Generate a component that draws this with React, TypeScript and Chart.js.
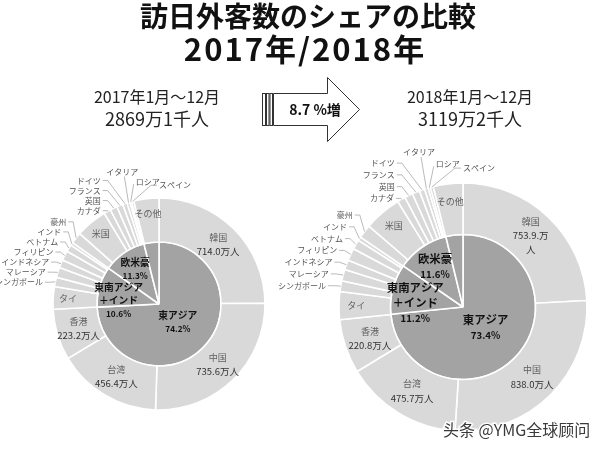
import React, { useEffect, useRef } from "react";
import { Chart, registerables } from "chart.js";

Chart.register(...registerables);

// ---------- data ----------
const countries = [
  "韓国", "中国", "台湾", "香港", "タイ", "シンガポール", "マレーシア", "インドネシア",
  "フィリピン", "ベトナム", "インド", "豪州", "米国", "カナダ", "英国", "フランス",
  "ドイツ", "イタリア", "ロシア", "スペイン", "その他",
];
const visitors2017 = [
  714.0, 735.6, 456.4, 223.2, 98.7, 40.4, 44.0, 35.3, 42.4, 30.9, 13.4, 49.5, 137.5,
  30.6, 31.0, 26.9, 19.6, 12.6, 7.7, 10.0, 109.4,
];
const visitors2018 = [
  753.9, 838.0, 475.7, 220.8, 113.2, 43.7, 46.8, 39.7, 50.4, 38.9, 15.4, 55.2, 152.6,
  33.1, 33.4, 30.5, 21.5, 14.9, 9.5, 11.9, 120.1,
];
const regions = ["東アジア", "東南アジア\n＋インド", "欧米豪", "その他"];
const regionShare2017 = [74.2, 10.6, 11.3, 3.9];
const regionShare2018 = [73.4, 11.2, 11.6, 3.8];
const valueCountries = ["韓国", "中国", "台湾", "香港"];
const valueText2017: Record<string, string[]> = {};
const valueText2018: Record<string, string[]> = { "韓国": ["753.9.万", "人"] };
const titleLines = ["訪日外客数のシェアの比較", "2017年/2018年"];
const period2017 = ["2017年1月～12月", "2869万1千人"];
const period2018 = ["2018年1月～12月", "3119万2千人"];
const growthLabel = "8.7 %増";
const watermark = "头条 @YMG全球顾问";

// ---------- styles ----------
const OUTER_FILL = "#d9d9d9";
const INNER_FILL = "#a3a3a3";
const FONT = "'Noto Sans CJK JP', 'Noto Sans CJK SC', sans-serif";

type Spec = {
  values: number[];
  shares: number[];
  valueText: Record<string, string[]>;
};

function ringLabels(spec: Spec) {
  return {
    id: "ringLabels",
    afterDatasetsDraw(chart: any) {
      const ctx: CanvasRenderingContext2D = chart.ctx;
      const outerArcs = chart.getDatasetMeta(0).data as any[];
      const innerArcs = chart.getDatasetMeta(1).data as any[];
      const f = outerArcs[0];
      const cx = f.x, cy = f.y, R = f.outerRadius, Rin = f.innerRadius;
      const vals = spec.values;
      const total = vals.reduce((s, v) => s + v, 0);
      const mid = (arc: any) => (arc.startAngle + arc.endAngle) / 2;
      const pt = (a: number, r: number) => [cx + r * Math.cos(a), cy + r * Math.sin(a)];

      ctx.save();
      ctx.textBaseline = "middle";

      // ---- outer ring labels ----
      const small: { i: number; a: number; nx: number; ny: number; y: number }[] = [];
      outerArcs.forEach((arc, i) => {
        const share = vals[i] / total;
        const a = mid(arc);
        if (share < 0.025) {
          small.push({ i, a, nx: 0, ny: 0, y: 0 });
          return;
        }
        const name = countries[i];
        const hasValue = valueCountries.includes(name);
        const lines = hasValue
          ? [name, ...(spec.valueText[name] ?? [vals[i].toFixed(1) + "万人"])]
          : [name];
        const r = hasValue ? (R + Rin) / 2 : 0.86 * R;
        const [x, y] = pt(a, r);
        const lh = 14;
        const y0 = y - (lh * (lines.length - 1)) / 2;
        ctx.textAlign = "center";
        lines.forEach((t, j) => {
          ctx.font = j === 0 ? `9px ${FONT}` : `9.5px ${FONT}`;
          ctx.fillStyle = j === 0 ? "#5e5e5e" : "#333333";
          ctx.fillText(t, x, y0 + j * lh);
        });
      });

      // leader-line labels
      const topCount = 3;
      const stack = small.slice(0, small.length - topCount);
      const top = small.slice(small.length - topCount);
      const k = 1.12;
      const gap = 0.095 * R;
      stack.forEach((it) => {
        it.ny = cy + k * R * Math.sin(it.a);
        it.nx = Math.min(cx + k * R * Math.cos(it.a), cx - 0.55 * R);
      });
      let clusters = stack.map((it) => ({ items: [it], mean: it.ny }));
      let merged = true;
      while (merged) {
        merged = false;
        for (let c = 0; c < clusters.length - 1; c++) {
          const A = clusters[c], B = clusters[c + 1];
          const aTop = A.mean - (gap * (A.items.length - 1)) / 2;
          const bBottom = B.mean + (gap * (B.items.length - 1)) / 2;
          if (aTop - bBottom < gap) {
            const its = [...A.items, ...B.items];
            clusters.splice(c, 2, {
              items: its,
              mean: its.reduce((s, t) => s + t.ny, 0) / its.length,
            });
            merged = true;
            break;
          }
        }
      }
      clusters.forEach((cl) =>
        cl.items.forEach((it, j) => {
          it.y = cl.mean + gap * ((cl.items.length - 1) / 2 - j);
        })
      );

      ctx.font = `8px ${FONT}`;
      ctx.fillStyle = "#555555";
      ctx.strokeStyle = "#a8a8a8";
      ctx.lineWidth = 0.8;
      stack.forEach((it) => {
        const [ex, ey] = pt(it.a, R);
        ctx.textAlign = "right";
        ctx.fillText(countries[it.i], it.nx, it.y);
        ctx.beginPath();
        ctx.moveTo(it.nx + 2, it.y);
        ctx.lineTo(it.nx + 7, it.y);
        ctx.lineTo(ex, ey);
        ctx.stroke();
      });
      top.forEach((it, j) => {
        const [ex, ey] = pt(it.a, R);
        ctx.beginPath();
        if (j === 0) {
          const x = cx + 1.2 * R * Math.cos(it.a);
          const y = cy - 1.25 * R;
          ctx.textAlign = "center";
          ctx.fillText(countries[it.i], x, y);
          ctx.moveTo(x + 2, y + 5);
          ctx.lineTo(ex, ey);
        } else if (j === 1) {
          const x = cx - 0.22 * R;
          const y = cy - 1.15 * R;
          ctx.textAlign = "left";
          ctx.fillText(countries[it.i], x, y);
          ctx.moveTo(x - 2, y + 2);
          ctx.lineTo(ex, ey);
        } else {
          const x = cx + 0.0 * R;
          const y = cy - 1.12 * R;
          ctx.textAlign = "left";
          ctx.fillText(countries[it.i], x, y);
          ctx.moveTo(x - 2, y);
          ctx.lineTo(x - 8, y);
          ctx.lineTo(ex, ey);
        }
        ctx.stroke();
      });

      // ---- inner pie labels ----
      const nameSize = R * 0.092;
      const pctSize = R * 0.078;
      const lh = nameSize * 1.35;
      const blocks = innerArcs.slice(0, 3).map((arc, i) => {
        const share = spec.shares[i] / 100;
        const a = mid(arc);
        const r = share > 0.5 ? 0.42 * Rin : 0.68 * Rin;
        const [x, y] = pt(a, r);
        const lines = [...regions[i].split("\n"), spec.shares[i].toFixed(1) + "%"];
        const half = (lh * (lines.length - 1)) / 2 + nameSize / 2;
        return { x, y, lines, half };
      });
      // keep the two small-slice blocks apart (block 1 sits below block 2)
      const lower = blocks[1], upper = blocks[2];
      const overlap = upper.y + upper.half + 2 - (lower.y - lower.half);
      if (overlap > 0) lower.y += overlap;
      blocks.forEach((b) => {
        const y0 = b.y - (lh * (b.lines.length - 1)) / 2;
        ctx.textAlign = "center";
        ctx.fillStyle = "#111111";
        b.lines.forEach((t, j) => {
          const isPct = j === b.lines.length - 1;
          ctx.font = `bold ${isPct ? pctSize : nameSize}px ${FONT}`;
          ctx.fillText(t, b.x, y0 + j * lh);
        });
      });
      ctx.restore();
    },
  };
}

const pageText = {
  id: "pageText",
  afterDraw(chart: any) {
    const ctx: CanvasRenderingContext2D = chart.ctx;
    ctx.save();
    ctx.textAlign = "center";
    ctx.textBaseline = "middle";
    ctx.fillStyle = "#111111";
    ctx.font = `bold 28px ${FONT}`;
    ctx.fillText(titleLines[0], 308, 16);
    ctx.font = `bold 31px ${FONT}`;
    (ctx as any).letterSpacing = "2px";
    ctx.fillText(titleLines[1], 305, 49);
    (ctx as any).letterSpacing = "0px";

    ctx.fillStyle = "#222222";
    ctx.font = `16px ${FONT}`;
    ctx.fillText(period2017[0], 157, 97);
    ctx.fillText(period2018[0], 470, 97);
    ctx.font = `18px ${FONT}`;
    ctx.fillText(period2017[1], 157, 119);
    ctx.fillText(period2018[1], 470, 119);

    // arrow
    ctx.strokeStyle = "#333333";
    ctx.lineWidth = 1;
    ctx.fillStyle = "#ffffff";
    [[262, 265], [266, 268.5], [269.5, 272]].forEach(([a, b]) => {
      ctx.fillRect(a + 0.5, 93.5, b - a, 32);
      ctx.strokeRect(a + 0.5, 93.5, b - a, 32);
    });
    ctx.beginPath();
    ctx.moveTo(273.5, 93.5);
    ctx.lineTo(327.5, 93.5);
    ctx.lineTo(327.5, 77.5);
    ctx.lineTo(359.5, 109.5);
    ctx.lineTo(327.5, 141.5);
    ctx.lineTo(327.5, 125.5);
    ctx.lineTo(273.5, 125.5);
    ctx.closePath();
    ctx.fill();
    ctx.stroke();
    ctx.fillStyle = "#111111";
    ctx.font = `bold 14px ${FONT}`;
    ctx.fillText(growthLabel, 315, 110);
    ctx.restore();
  },
};

const watermarkPlugin = {
  id: "watermark",
  afterDraw(chart: any) {
    const ctx: CanvasRenderingContext2D = chart.ctx;
    ctx.save();
    ctx.font = `16px 'Noto Sans CJK SC', ${FONT}`;
    ctx.textAlign = "left";
    ctx.textBaseline = "middle";
    ctx.lineWidth = 3;
    ctx.strokeStyle = "rgba(255,255,255,0.9)";
    ctx.strokeText(watermark, 443, 430);
    ctx.fillStyle = "#3a3a3a";
    ctx.fillText(watermark, 443, 430);
    ctx.restore();
  },
};

function makeConfig(spec: Spec, radius: number, padding: any, extra: any[]): any {
  return {
    type: "doughnut",
    data: {
      labels: countries,
      datasets: [
        {
          data: spec.values,
          backgroundColor: OUTER_FILL,
          borderColor: "#ffffff",
          borderWidth: 1.6,
          weight: 0.415,
        },
        {
          data: spec.shares,
          backgroundColor: INNER_FILL,
          borderColor: "#ffffff",
          borderWidth: 1.6,
          weight: 0.585,
        },
      ],
    },
    options: {
      animation: false,
      responsive: false,
      cutout: 0,
      radius,
      layout: { padding },
      plugins: { legend: { display: false }, tooltip: { enabled: false }, title: { display: false } },
      events: [],
    },
    plugins: [ringLabels(spec), ...extra],
  };
}

export default function App() {
  const c1 = useRef<HTMLCanvasElement>(null);
  const c2 = useRef<HTMLCanvasElement>(null);
  useEffect(() => {
    const ch1 = new Chart(
      c1.current!,
      makeConfig(
        { values: visitors2017, shares: regionShare2017, valueText: valueText2017 },
        106,
        { left: 0, right: 289, top: 157, bottom: 0 },
        [pageText]
      )
    );
    const ch2 = new Chart(
      c2.current!,
      makeConfig(
        { values: visitors2018, shares: regionShare2018, valueText: valueText2018 },
        124,
        { left: 319, right: 0, top: 163, bottom: 0 },
        [watermarkPlugin]
      )
    );
    return () => {
      ch1.destroy();
      ch2.destroy();
    };
  }, []);
  return (
    <div
      style={{
        position: "absolute",
        left: 0,
        top: 0,
        width: 607,
        height: 451,
        background: "#ffffff",
        overflow: "hidden",
      }}
    >
      <canvas ref={c1} width={607} height={451} style={{ position: "absolute", left: 0, top: 0 }} />
      <canvas ref={c2} width={607} height={451} style={{ position: "absolute", left: 0, top: 0 }} />
    </div>
  );
}
